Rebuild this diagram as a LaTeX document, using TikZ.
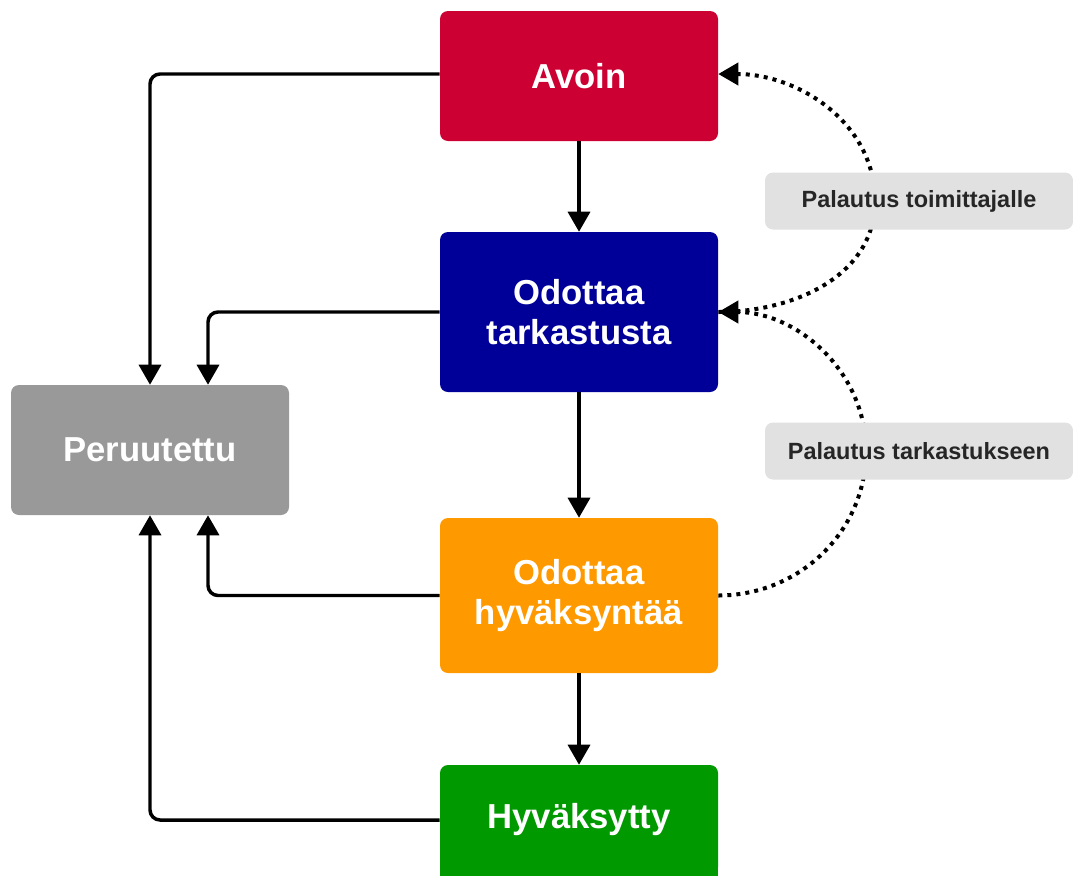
\documentclass[tikz,border=0pt]{standalone}
\usepackage{fontspec}
\setmainfont{Liberation Sans}
\usetikzlibrary{arrows.meta,calc}
\definecolor{avoinred}{HTML}{CC0033}
\definecolor{tarkblue}{HTML}{000099}
\definecolor{hyvorange}{HTML}{FF9900}
\definecolor{okgreen}{HTML}{009900}
\definecolor{perugray}{HTML}{999999}
\definecolor{notegray}{HTML}{E1E1E1}

\begin{document}
\begin{tikzpicture}[x=0.75pt,y=-0.75pt,
	state/.style={rectangle, rounded corners=6pt, minimum width=208.5pt, inner sep=0pt,
		text=white, align=center, font=\fontsize{26}{29.5}\selectfont\bfseries},
	note/.style={rectangle, rounded corners=6pt, fill=notegray, minimum width=231pt,
		minimum height=42.75pt, font=\fontsize{17.6}{20}\selectfont\bfseries, text=black!85},
	link/.style={line width=2.6pt, rounded corners=7.5pt, -{Triangle[length=15pt,width=16.5pt]}},
	back/.style={line width=3pt, dash pattern=on 3pt off 3.8pt, -{Triangle[length=15pt,width=16.5pt]}}]
	%%%%% START %%%%%
	\useasboundingbox (0,0) rectangle (1073,875);
	
	\node[state, fill=avoinred, minimum height=97.5pt] (avoin) at (579,76) {Avoin};
	\node[state, fill=tarkblue, minimum height=120pt] (tark) at (579,312) {Odottaa\\tarkastusta};
	\node[state, fill=hyvorange, minimum height=116.25pt] (hyv) at (579,595.5) {Odottaa\\hyväksyntää};
	\fill[okgreen] (440,830) rectangle (718,876);
	\node[state, fill=okgreen, minimum height=82.5pt] (hyvaks) at (579,820) {Hyväksytty};
	\node[state, fill=perugray, minimum height=97.5pt] (peru) at (150,450) {Peruutettu};
	
	% eteenpain
	\draw[link] (avoin) -- (tark);
	\draw[link] (tark) -- (hyv);
	\draw[link] (hyv) -- (hyvaks);
	
	% peruutus
	\draw[link] (avoin.west |- 0,74) -| (peru.north);
	\draw[link] (tark.west) -| ($(peru.north)+(58,0)$);
	\draw[link] (hyv.west) -| ($(peru.south)+(58,0)$);
	\draw[link] (hyvaks.west) -| (peru.south);
	
	% palautukset
	\coordinate (turn1) at (875,201);
	\coordinate (turn2) at (866,451);
	\draw[back] (tark.east) to[out=0,in=-90] (turn1) to[out=90,in=0] (avoin.east |- 0,74);
	\draw[back] (hyv.east) to[out=0,in=-90] (turn2) to[out=90,in=0] (tark.east);
	
	\node[note] (ptoim) at (919,201) {Palautus toimittajalle};
	\node[note] (ptark) at (919,451) {Palautus tarkastukseen};
	%%%%% END %%%%%
\end{tikzpicture}
\end{document}
